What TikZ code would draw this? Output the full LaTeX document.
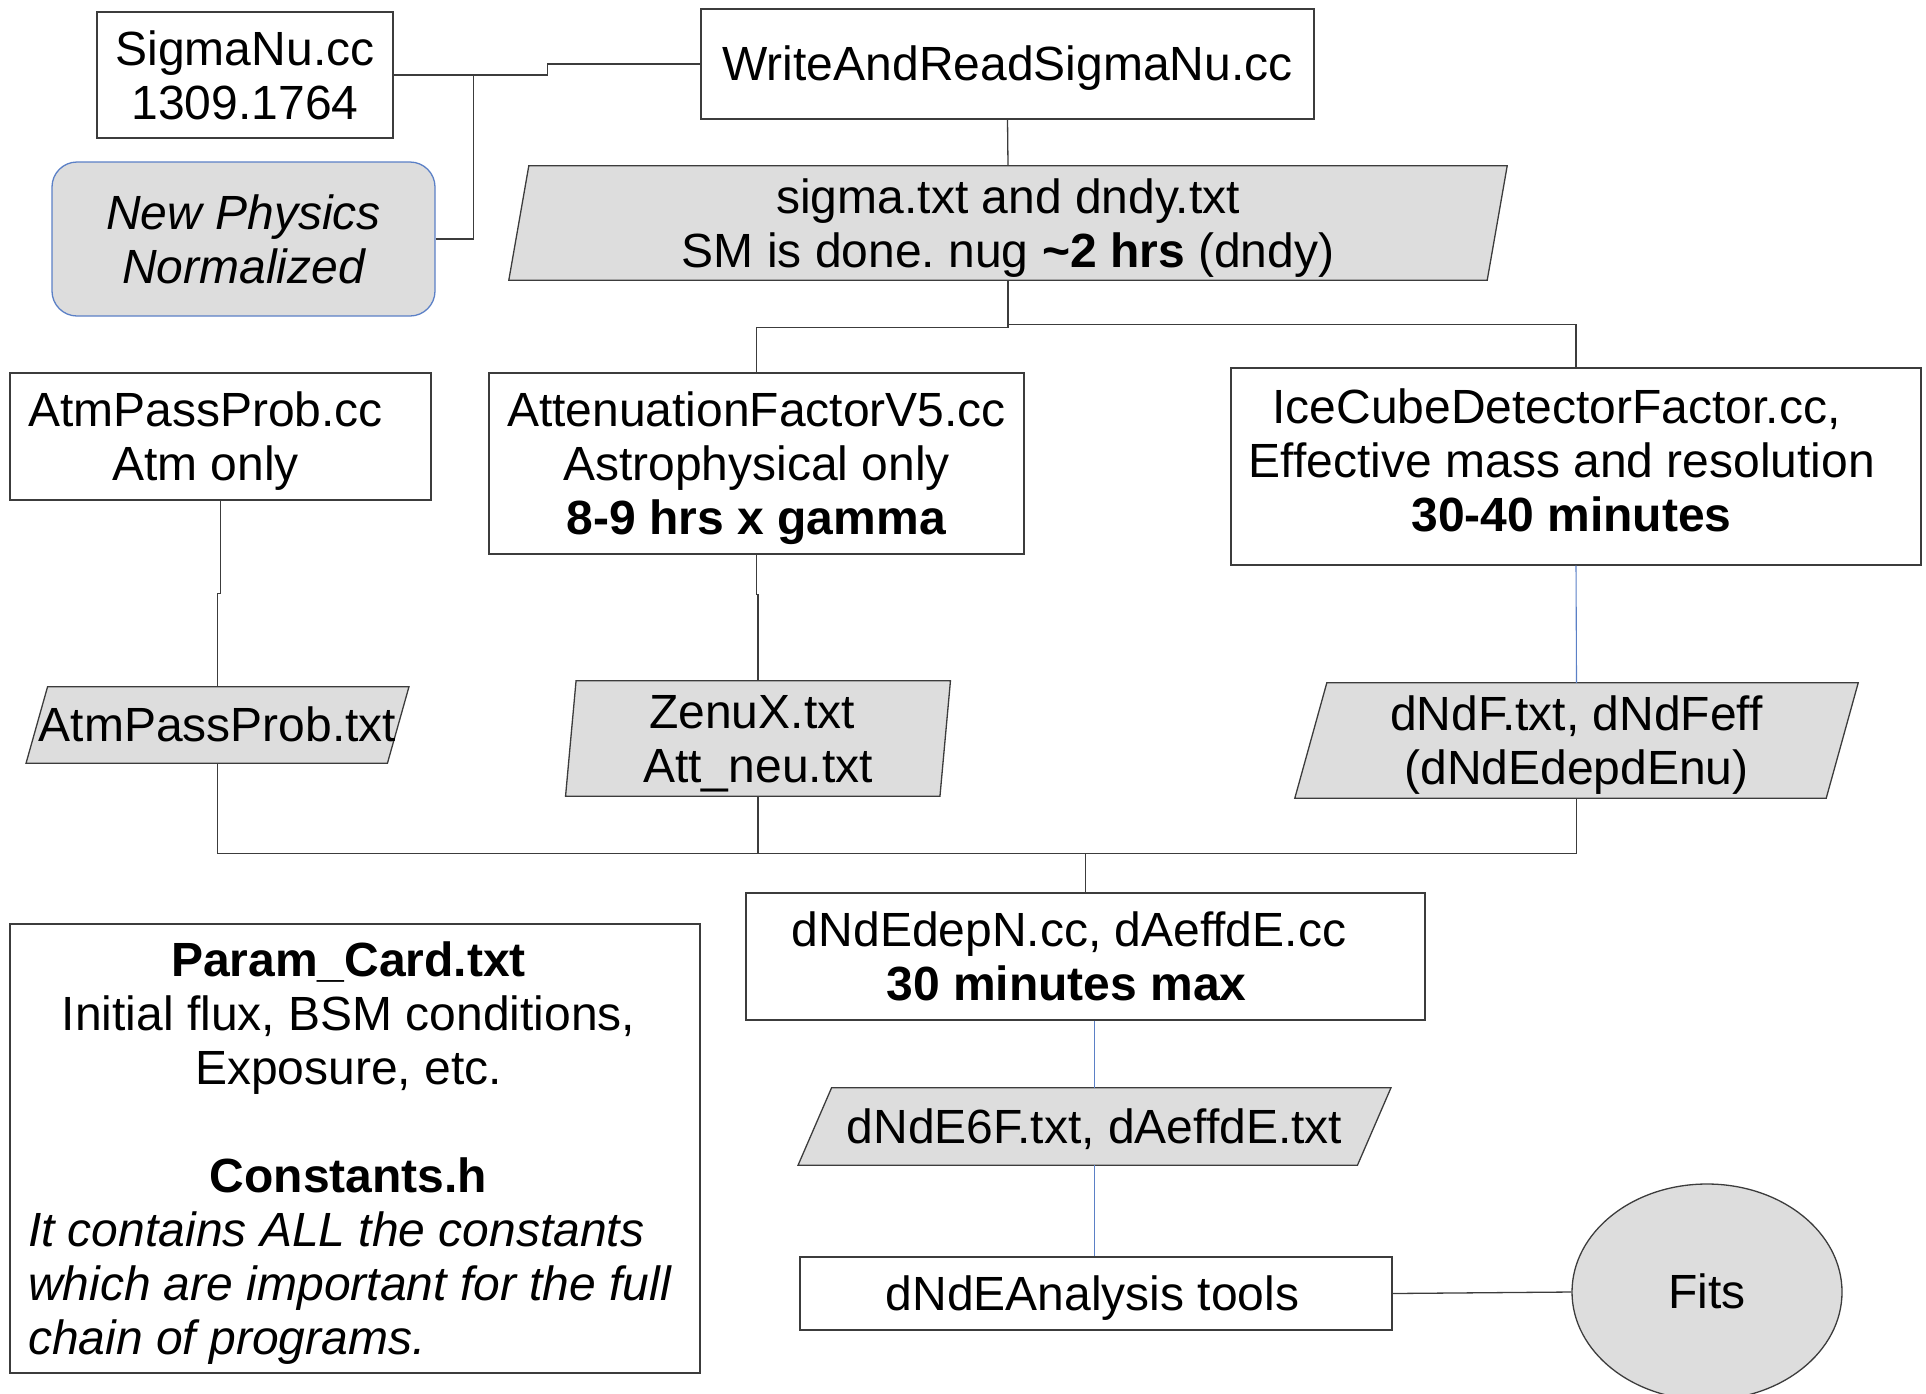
\documentclass[tikz,border=0pt]{standalone}
\usepackage{fontspec}
\setmainfont{Liberation Sans}
\usetikzlibrary{shapes.geometric,calc}
\setlength{\parindent}{0pt}
\frenchspacing
\pgfdeclarelayer{background}
\pgfsetlayers{background,main}
\definecolor{edge}{HTML}{3C3C3C}
\definecolor{gfill}{HTML}{DDDDDD}
\definecolor{blueedge}{HTML}{5B80C6}
\newcommand{\bigfs}{\fontsize{48}{54}\selectfont\frenchspacing}
\newcommand{\lostrut}{\rule[-0.212em]{0pt}{1.117em}}
\newcommand{\histrut}{\rule{0pt}{\dimexpr0.905em+1pt\relax}}
\newcommand{\pgr}[2]{%
  \begin{pgfonlayer}{background}
    \filldraw[draw=edge, fill=gfill, line width=1.3pt]
      ([xshift={-0.5*#2pt}]#1.south west) -- ([xshift={-0.5*#2pt}]#1.south east)
      -- ([xshift={0.5*#2pt}]#1.north east) -- ([xshift={0.5*#2pt}]#1.north west) -- cycle;
  \end{pgfonlayer}}
\begin{document}
\begin{tikzpicture}[x=1pt,y=-1pt,
  every node/.style={font=\bigfs, text=black, execute at begin node={\lostrut}, execute at end node={\lostrut}},
  box/.style={draw=edge, line width=1.3pt, fill=white, rectangle, inner sep=0pt, align=center},
  ptext/.style={inner sep=0pt, align=center},
  conn/.style={draw=edge, line width=1.3pt},
  bconn/.style={draw=blueedge, line width=1.1pt}]
\useasboundingbox (0,0) rectangle (1926,1393);

% nodes
\node[box, minimum width=296pt, minimum height=126pt] (sn) at (245,75) {\histrut SigmaNu.cc\\1309.1764};
\node[box, minimum width=613pt, minimum height=110pt] (wr) at (1007.5,64) {WriteAndReadSigmaNu.cc};
\node[box, draw=blueedge, fill=gfill, rounded corners=25pt, minimum width=383pt, minimum height=154pt, font=\bigfs\itshape] (np) at (243.5,239) {\histrut New Physics\\Normalized};

\node[ptext, minimum width=978pt, minimum height=114pt] (sig) at (1008,223) {\histrut sigma.txt and dndy.txt\\SM is done. nug \textbf{\textasciitilde2 hrs} (dndy)};
\pgr{sig}{20}

\node[box, minimum width=421pt, minimum height=127pt] (apc) at (220.5,436.5) {\histrut AtmPassProb.cc\kern30pt\\Atm only\kern30pt};
\node[box, minimum width=535pt, minimum height=181pt] (att) at (756.5,463.5) {\histrut AttenuationFactorV5.cc\\Astrophysical only\\\textbf{8-9 hrs x gamma}};
\node[box, minimum width=690pt, minimum height=197pt, execute at end node={\rule[-23pt]{0pt}{23pt}}] (ice) at (1576,466.5) {\histrut IceCubeDetectorFactor.cc,\kern39pt\\Effective mass and resolution\kern28pt\\\textbf{30-40 minutes}\kern9pt};

\node[ptext, minimum width=361pt, minimum height=76pt] (apt) at (217.5,725) {AtmPassProb.txt};
\pgr{apt}{21.5}
\node[ptext, minimum width=374pt, minimum height=115pt] (zen) at (758,738.5) {\histrut ZenuX.txt\kern12pt\\Att\_neu.txt};
\pgr{zen}{10.5}
\node[ptext, minimum width=531pt, minimum height=115pt] (dnf) at (1576.5,740.5) {\histrut dNdF.txt, dNdFeff\\(dNdEdepdEnu)};
\pgr{dnf}{32}

\node[box, minimum width=679pt, minimum height=127pt] (edep) at (1085.5,956.5) {\histrut dNdEdepN.cc, dAeffdE.cc\kern33pt\\\textbf{30 minutes max}\kern38pt};
\node[ptext, minimum width=559pt, minimum height=77pt] (e6f) at (1094.5,1126.5) {dNdE6F.txt, dAeffdE.txt};
\pgr{e6f}{33.5}
\node[box, minimum width=592pt, minimum height=73pt] (ana) at (1096,1293.5) {dNdEAnalysis tools\kern7pt};
\node[draw=edge, fill=gfill, ellipse, line width=1.3pt, minimum width=270pt, minimum height=216pt, inner sep=0pt] (fits) at (1707,1292) {Fits};

\node[box, align=left, minimum width=690pt, minimum height=449pt] (pc) at (355,1148.5)
 {\histrut\makebox[641pt]{\textbf{Param\_Card.txt}}\kern13pt\\
  \makebox[641pt]{Initial flux, BSM conditions,}\\
  \makebox[641pt]{Exposure, etc.}\\[54pt]
  \makebox[641pt]{\textbf{Constants.h}}\\
  \textit{It contains ALL the constants}\\
  \textit{which are important for the full}\\
  \textit{chain of programs.}};

% connectors
\draw[conn] (sn.east) -- ++(154,0) |- (wr.west);
\draw[conn] (np.east) -- ++(38,0) |- (sn.east);
\draw[conn] (wr.south) -- (sig.north);
\draw[conn] (sig.south) -- ++(0,47) -| (att.north);
\draw[conn] (sig.south) -- ++(0,44) -| (ice.north);
\draw[conn] (apc.south) -- ++(0,93) -| (apt.north);
\draw[conn] (att.south) -- ++(0,40) -| (zen.north);
\draw[bconn] (ice.south) -- (dnf.north);
\draw[conn] (apt.south) -- ++(0,90) -| (edep.north);
\draw[conn] (zen.south) -- ++(0,57) -| (edep.north);
\draw[conn] (dnf.south) -- ++(0,55) -| (edep.north);
\draw[bconn] (e6f.north) -- (e6f.north |- edep.south);
\draw[bconn] (e6f.south) -- (e6f.south |- ana.north);
\draw[conn] (ana.east) -- (fits.west);
\end{tikzpicture}
\end{document}
